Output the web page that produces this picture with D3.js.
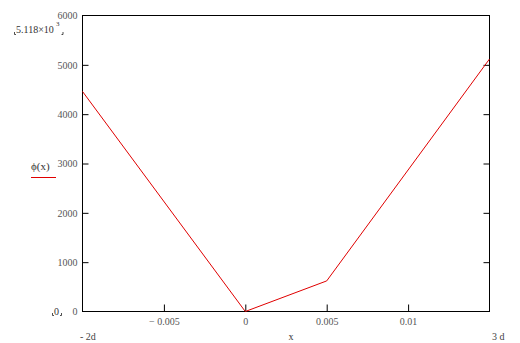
<!DOCTYPE html>
<html>
<head>
<meta charset="utf-8">
<script src="https://cdn.jsdelivr.net/npm/d3@7"></script>
<style>
  body { margin: 0; background: #fff; }
  text { font-family: "Liberation Serif", "DejaVu Serif", serif; }
</style>
</head>
<body>
<div id="vis"></div>
<script>
// piecewise curve phi(x), d = 0.005
const xs = [-0.01, 0, 0.005, 0.015]
const phi = [4460, 0, 620, 5118]
const xTicks = [-0.005, 0, 0.005, 0.01]
const yTicks = [0, 1000, 2000, 3000, 4000, 5000, 6000]

const W = 520, H = 343
const margin = {left: 82.5, right: 30.5, top: 15.5, bottom: 31.5}

const svg = d3.select('#vis').append('svg')
    .attr('width', W)
    .attr('height', H)

const x = d3.scaleLinear([-0.01, 0.015], [margin.left, W - margin.right])
const y = d3.scaleLinear([0, 6000], [H - margin.bottom, margin.top])

// frame
svg.append('rect')
    .attr('x', x(-0.01)).attr('y', y(6000))
    .attr('width', x(0.015) - x(-0.01))
    .attr('height', y(0) - y(6000))
    .attr('fill', 'none')
    .attr('stroke', '#000')
    .attr('stroke-width', 1)

// bottom ticks (inside)
svg.append('g')
    .attr('transform', `translate(0,${y(0)})`)
    .call(d3.axisBottom(x).tickValues(xTicks).tickSizeInner(-7).tickSizeOuter(0)
        .tickFormat(d => d === 0 ? '0' : (d < 0 ? '\u2212 ' + d3.format('')(-d) : d3.format('')(d))))
    .call(g => g.select('.domain').remove())
    .call(g => g.selectAll('.tick line').attr('stroke', '#000'))
    .call(g => g.selectAll('.tick text').attr('y', 6).attr('dy', '0.71em')
        .attr('fill', '#555').attr('font-size', 10).attr('font-family', '"Liberation Serif", serif'))

// left ticks (inside)
svg.append('g')
    .attr('transform', `translate(${x(-0.01)},0)`)
    .call(d3.axisLeft(y).tickValues(yTicks).tickSizeInner(-6).tickSizeOuter(0).tickFormat(d3.format('d')))
    .call(g => g.select('.domain').remove())
    .call(g => g.selectAll('.tick line').attr('stroke', '#000')
        .attr('opacity', d => (d === 0 || d === 6000) ? 0 : 1))
    .call(g => g.selectAll('.tick text').attr('x', -5)
        .attr('fill', '#555').attr('font-size', 10).attr('font-family', '"Liberation Serif", serif'))

// right ticks (inside)
svg.append('g')
    .attr('transform', `translate(${x(0.015)},0)`)
    .call(d3.axisRight(y).tickValues(yTicks.slice(1, -1)).tickSizeInner(-6).tickSizeOuter(0).tickFormat(''))
    .call(g => g.select('.domain').remove())
    .call(g => g.selectAll('.tick line').attr('stroke', '#000'))

// the curve
const pts = xs.map((v, i) => [v, phi[i]])
svg.append('path')
    .datum(pts)
    .attr('fill', 'none')
    .attr('stroke', '#e00000')
    .attr('stroke-width', 1)
    .attr('d', d3.line().x(d => x(d[0])).y(d => y(d[1])))

// range labels
const lab = (t, px, py, anchor, fill, size) => svg.append('text')
    .attr('x', px).attr('y', py)
    .attr('text-anchor', anchor || 'start')
    .attr('fill', fill || '#333')
    .attr('font-size', size || 10)
    .text(t)

lab('5.118\u00d710', 16, 33, 'start', '#333', 10)
lab('3', 56, 26, 'start', '#333', 7)
// Mathcad placeholder brackets
svg.append('path').attr('d', 'M14.5,32 V34.5 H16 M61.5,34.5 H63 V32').attr('fill', 'none').attr('stroke', '#222').attr('stroke-width', 0.8)
lab('0', 54, 315, 'start', '#333', 10)
svg.append('path').attr('d', 'M52.5,313 V315.5 H54 M60,315.5 H61.5 V313').attr('fill', 'none').attr('stroke', '#222').attr('stroke-width', 0.8)

lab('\u03d5(x)', 31, 170, 'start', '#333', 11)
svg.append('line').attr('x1', 31).attr('x2', 56).attr('y1', 177.5).attr('y2', 177.5)
    .attr('stroke', '#e00000').attr('stroke-width', 1)

lab('- 2d', 80, 340, 'start', '#444', 10)
lab('3 d', 492, 340, 'start', '#444', 10)
lab('x', 291, 340, 'middle', '#333', 10)
</script>
</body>
</html>
